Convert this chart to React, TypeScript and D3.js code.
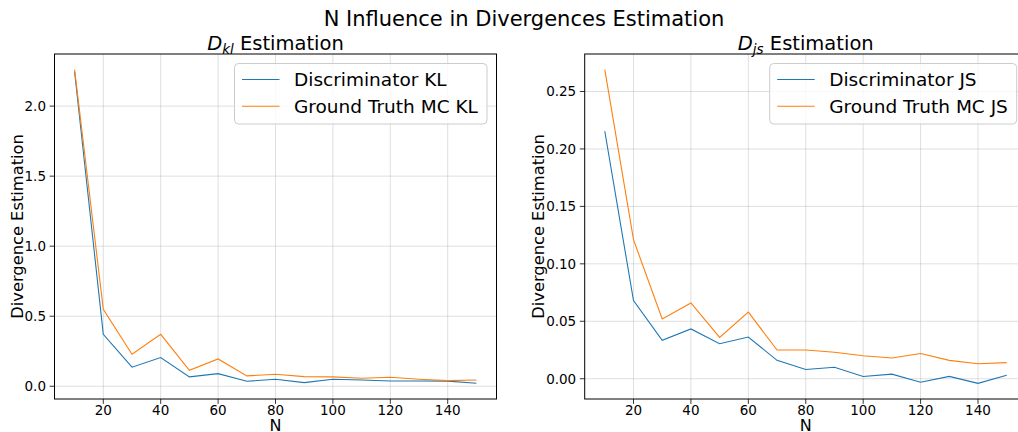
import React from "react";
import * as d3 from "d3";

const nValues = [10, 20, 30, 40, 50, 60, 70, 80, 90, 100, 110, 120, 130, 140, 150];
const discKL = [2.245, 0.371, 0.136, 0.205, 0.067, 0.09, 0.036, 0.05, 0.026, 0.05, 0.045, 0.038, 0.038, 0.037, 0.021];
const gtKL = [2.26, 0.55, 0.229, 0.371, 0.114, 0.195, 0.074, 0.086, 0.069, 0.067, 0.057, 0.064, 0.05, 0.04, 0.045];
const discJS = [0.2154, 0.068, 0.0334, 0.0433, 0.0305, 0.0363, 0.016, 0.008, 0.01, 0.002, 0.004, -0.003, 0.002, -0.004, 0.003];
const gtJS = [0.269, 0.121, 0.052, 0.066, 0.036, 0.058, 0.025, 0.025, 0.023, 0.02, 0.018, 0.022, 0.016, 0.013, 0.014];
const xTicks = [20, 40, 60, 80, 100, 120, 140];
const klTicks = [0, 0.5, 1.0, 1.5, 2.0];
const jsTicks = [0, 0.05, 0.1, 0.15, 0.2, 0.25];
const klLabels = ["Discriminator KL", "Ground Truth MC KL"];
const jsLabels = ["Discriminator JS", "Ground Truth MC JS"];

const FONT = "DejaVu Sans";
const BLUE = "#1f77b4";
const ORANGE = "#ff7f0e";

type PanelProps = {
  x0: number;
  x1: number;
  y0: number;
  y1: number;
  s1: number[];
  s2: number[];
  yTicks: number[];
  fmt: string;
  labels: string[];
  sub: string;
  legendX: number;
  legendW: number;
  ylabelX: number;
  clipId: string;
};

function Panel(p: PanelProps) {
  const xMin = d3.min(nValues)!;
  const xMax = d3.max(nValues)!;
  const xm = (xMax - xMin) * 0.05;
  const x = d3.scaleLinear().domain([xMin - xm, xMax + xm]).range([p.x0, p.x1]);
  const all = p.s1.concat(p.s2);
  const yMin = d3.min(all)!;
  const yMax = d3.max(all)!;
  const ym = (yMax - yMin) * 0.05;
  const y = d3.scaleLinear().domain([yMin - ym, yMax + ym]).range([p.y1, p.y0]);
  const line = d3
    .line<number>()
    .x((_, i) => x(nValues[i]))
    .y((d) => y(d));
  const f = d3.format(p.fmt);
  const cx = (p.x0 + p.x1) / 2;
  const lx = p.legendX;
  return (
    <g>
      <defs>
        <clipPath id={p.clipId}>
          <rect x={p.x0} y={p.y0} width={p.x1 - p.x0} height={p.y1 - p.y0} />
        </clipPath>
      </defs>
      {xTicks.map((t) => (
        <line key={"gx" + t} x1={x(t)} x2={x(t)} y1={p.y0} y2={p.y1} stroke="#b0b0b0" strokeOpacity={0.5} strokeWidth={0.8} />
      ))}
      {p.yTicks.map((t) => (
        <line key={"gy" + t} x1={p.x0} x2={p.x1} y1={y(t)} y2={y(t)} stroke="#b0b0b0" strokeOpacity={0.5} strokeWidth={0.8} />
      ))}
      <g clipPath={`url(#${p.clipId})`}>
        <path d={line(p.s1)!} fill="none" stroke={BLUE} strokeWidth={1.1} />
        <path d={line(p.s2)!} fill="none" stroke={ORANGE} strokeWidth={1.1} />
      </g>
      <rect x={p.x0} y={p.y0} width={p.x1 - p.x0} height={p.y1 - p.y0} fill="none" stroke="#000" strokeWidth={1} />
      {xTicks.map((t) => (
        <g key={"tx" + t}>
          <line x1={x(t)} x2={x(t)} y1={p.y1} y2={p.y1 + 4.9} stroke="#000" strokeWidth={0.8} />
          <text x={x(t)} y={414.5} textAnchor="middle" fontSize={13.5} fontFamily={FONT} fill="#000">
            {t}
          </text>
        </g>
      ))}
      {p.yTicks.map((t) => (
        <g key={"ty" + t}>
          <line x1={p.x0 - 4.9} x2={p.x0} y1={y(t)} y2={y(t)} stroke="#000" strokeWidth={0.8} />
          <text x={p.x0 - 8.5} y={y(t) + 4.9} textAnchor="end" fontSize={13.5} fontFamily={FONT} fill="#000">
            {f(t)}
          </text>
        </g>
      ))}
      <text x={cx} y={431} textAnchor="middle" fontSize={16} fontFamily={FONT} fill="#000">
        N
      </text>
      <text
        transform={`translate(${p.ylabelX},${(p.y0 + p.y1) / 2}) rotate(-90)`}
        textAnchor="middle"
        fontSize={16.3}
        fontFamily={FONT}
        fill="#000"
      >
        Divergence Estimation
      </text>
      <text x={cx} y={50} textAnchor="middle" fontSize={19.5} fontFamily={FONT} fill="#000">
        <tspan fontStyle="italic">D</tspan>
        <tspan fontStyle="italic" fontSize={13.5} dy={4}>
          {p.sub}
        </tspan>
        <tspan dy={-4}>{" Estimation"}</tspan>
      </text>
      <rect x={lx} y={63.5} width={p.legendW} height={60.5} rx={4} fill="#fff" fillOpacity={0.8} stroke="#cccccc" strokeWidth={1} />
      {[BLUE, ORANGE].map((c, i) => (
        <g key={"lg" + i}>
          <line x1={lx + 7.5} x2={lx + 45} y1={79.5 + i * 26.8} y2={79.5 + i * 26.8} stroke={c} strokeWidth={1.1} />
          <text x={lx + 59.5} y={86 + i * 26.8} fontSize={18.5} fontFamily={FONT} fill="#000">
            {p.labels[i]}
          </text>
        </g>
      ))}
    </g>
  );
}

export default function App() {
  return (
    <svg width={1018} height={432} style={{ position: "absolute", left: 0, top: 0, background: "#fff" }}>
      <rect x={0} y={0} width={1018} height={432} fill="#fff" />
      <text x={524} y={26} textAnchor="middle" fontSize={21} fontFamily={FONT} fill="#000">
        N Influence in Divergences Estimation
      </text>
      <Panel
        x0={54.5}
        x1={496.5}
        y0={54}
        y1={399}
        s1={discKL}
        s2={gtKL}
        yTicks={klTicks}
        fmt=".1f"
        labels={klLabels}
        sub="kl"
        legendX={234.5}
        legendW={252.5}
        ylabelX={23}
        clipId="clipL"
      />
      <Panel
        x0={584.7}
        x1={1026.8}
        y0={54}
        y1={399}
        s1={discJS}
        s2={gtJS}
        yTicks={jsTicks}
        fmt=".2f"
        labels={jsLabels}
        sub="js"
        legendX={769.7}
        legendW={247}
        ylabelX={544}
        clipId="clipR"
      />
    </svg>
  );
}
